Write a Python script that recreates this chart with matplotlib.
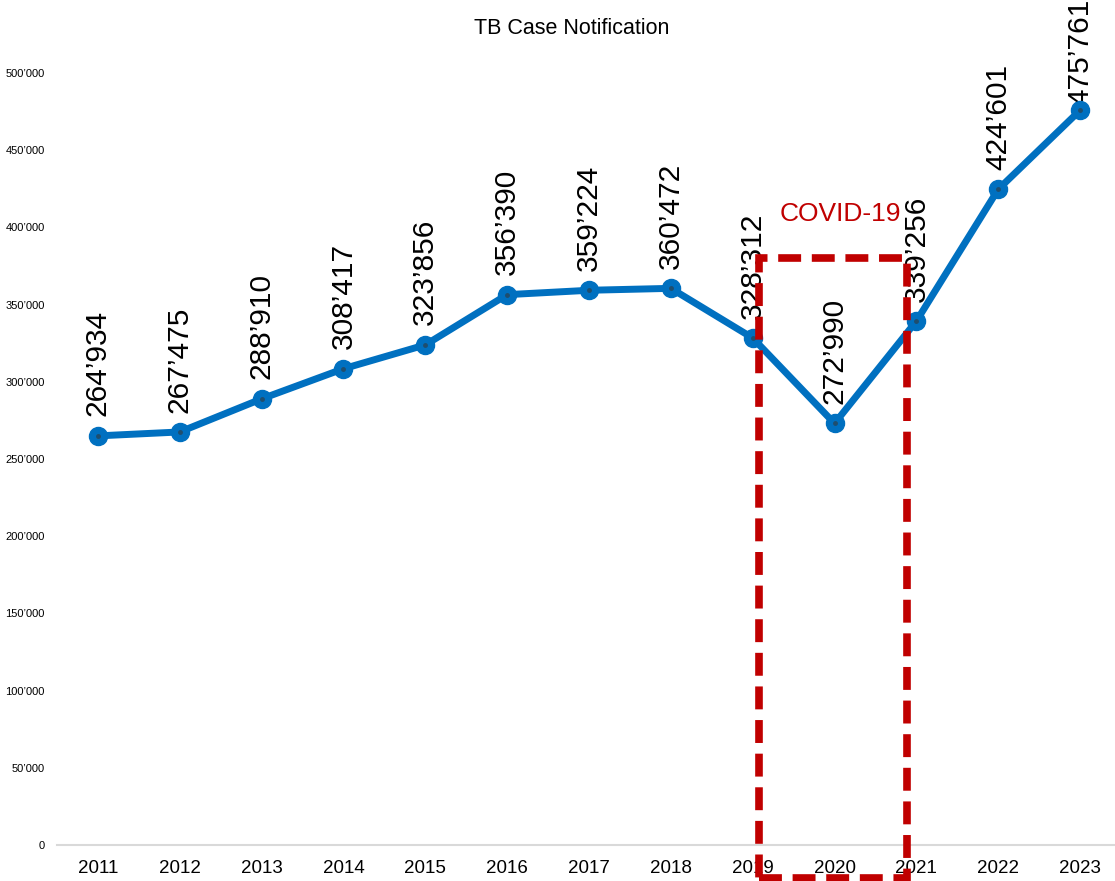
import matplotlib
matplotlib.use('Agg')
import matplotlib.pyplot as plt
from matplotlib.patches import Rectangle

years = [2011, 2012, 2013, 2014, 2015, 2016, 2017, 2018, 2019, 2020, 2021, 2022, 2023]
cases = [264934, 267475, 288910, 308417, 323856, 356390, 359224, 360472,
         328312, 272990, 339256, 424601, 475761]
yticks = [0, 50000, 100000, 150000, 200000, 250000, 300000, 350000, 400000, 450000, 500000]

plt.rcParams['font.family'] = ['Liberation Sans', 'DejaVu Sans']

def fmt(v):
    return f"{v:,}".replace(",", "\u2019")

fig = plt.figure(figsize=(11.15, 8.81), dpi=100)
# axes run a little past the right edge, like the original
ax = fig.add_axes([57 / 1115, 36 / 881, 1064 / 1115, 803 / 881])

blue = '#0070C0'
ax.plot(years, cases, color=blue, lw=5, marker='o', ms=13, mfc=blue, mec=blue, zorder=3)
ax.plot(years, cases, ls='none', marker='o', ms=2.5, color='#1f4e6e', zorder=4)

for i, (x, v) in enumerate(zip(years, cases)):
    off = 4 if i == len(years) - 1 else 14
    ax.annotate(fmt(v), (x, v), xytext=(0, off), textcoords='offset points',
                rotation=90, ha='center', va='bottom', fontsize=21.5, color='black',
                annotation_clip=False, zorder=2)

ax.set_xlim(2010.5, 2023.5)
ax.set_ylim(0, 520000)
ax.set_xticks(years)
ax.set_xticklabels([str(y) for y in years], fontsize=13.5)
ax.set_yticks(yticks)
ax.set_yticklabels([fmt(v) if v else '0' for v in yticks], fontsize=8)
ax.tick_params(length=0)
ax.tick_params(axis='x', pad=11)
ax.tick_params(axis='y', pad=9)
for s in ['top', 'right', 'left']:
    ax.spines[s].set_visible(False)
ax.spines['bottom'].set_color('#d9d9d9')
ax.spines['bottom'].set_linewidth(1.5)

red = '#C00000'
box = Rectangle((2019.08, -21300), 1.81, 401500, fill=False, ec=red, lw=5.5,
                ls=(0, (3, 1.4)), clip_on=False, zorder=5)
ax.add_patch(box)
ax.text(2020.07, 408500, 'COVID-19', color=red, fontsize=19, ha='center', va='center')

fig.text(0.513, 0.968, 'TB Case Notification', ha='center', va='center', fontsize=15.5)

fig.savefig('out.png', dpi=100)
